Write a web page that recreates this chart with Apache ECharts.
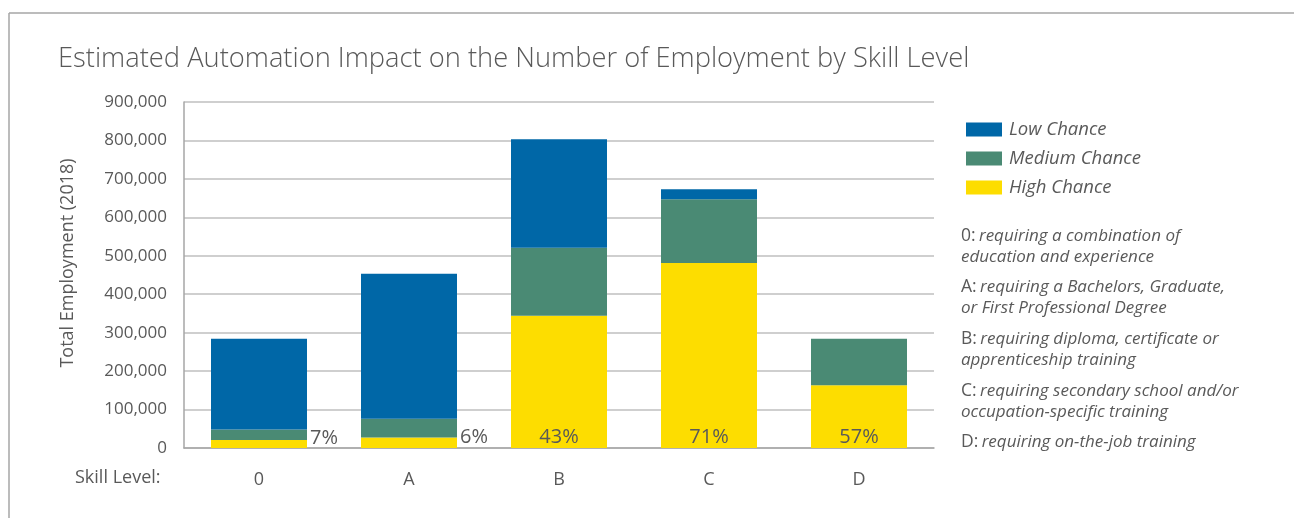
<!DOCTYPE html>
<html><head><meta charset="utf-8">
<script src="https://cdn.jsdelivr.net/npm/echarts@6/dist/echarts.min.js"></script>
<style>html,body{margin:0;padding:0;background:#fff}#c{width:1294px;height:518px}</style>
</head><body><div id="c"></div>
<script>
const categories = ['0', 'A', 'B', 'C', 'D'];
const highChance = [21000, 27000, 344000, 481000, 163000];
const mediumChance = [27000, 49000, 177000, 166000, 121000];
const lowChance = [236000, 377000, 282000, 26000, 0];
const highPctLabels = ['7%', '6%', '43%', '71%', '57%'];
const outsideLabelCats = ['0', 'A'];
const seriesNames = ['Low Chance', 'Medium Chance', 'High Chance'];
const notes = [
  ['0:', 'requiring a combination of', 'education and experience'],
  ['A:', 'requiring a Bachelors, Graduate,', 'or First Professional Degree'],
  ['B:', 'requiring diploma, certificate or', 'apprenticeship training'],
  ['C:', 'requiring secondary school and/or', 'occupation-specific training'],
  ['D:', 'requiring on-the-job training', '']
];

const FONT = '"Open Sans", Lato, sans-serif';
const GREY = '#595959';
const chart = echarts.init(document.getElementById('c'));

const highData = highChance.map((v, i) => {
  const outside = outsideLabelCats.includes(categories[i]);
  return {
    value: v,
    label: outside
      ? { position: 'right', distance: 3, offset: [0, -6] }
      : { position: 'insideBottom', distance: 1 }
  };
});

const graphics = [
  { type: 'line', shape: { x1: 9, y1: 13, x2: 1294, y2: 13 }, style: { stroke: '#a6a6a6', lineWidth: 1.5 } },
  { type: 'line', shape: { x1: 9, y1: 13, x2: 9, y2: 518 }, style: { stroke: '#a6a6a6', lineWidth: 1.5 } },
  { type: 'text', left: 75, top: 469, style: { text: 'Skill Level:', font: '18px ' + FONT, fill: GREY } },
  { type: 'text', x: 68, y: 263, rotation: Math.PI / 2,
    style: { text: 'Total Employment (2018)', font: '18px ' + FONT, fill: GREY, align: 'center', verticalAlign: 'middle' } }
];
const noteTops = [227, 278, 330, 382, 433];
notes.forEach((n, i) => {
  let txt = '{b|' + n[0] + '} {i|' + n[1] + '}';
  if (n[2]) txt += '\n{i|' + n[2] + '}';
  graphics.push({
    type: 'text', left: 961, top: noteTops[i],
    style: {
      text: txt,
      rich: {
        b: { fontFamily: FONT, fontSize: 17.5, fill: GREY, lineHeight: 21 },
        i: { fontFamily: FONT, fontSize: 17, fontStyle: 'italic', fill: GREY, lineHeight: 21 }
      }
    }
  });
});

chart.setOption({
  animation: false,
  title: {
    text: 'Estimated Automation Impact on the Number of Employment by Skill Level',
    left: 53, top: 41,
    textStyle: { fontFamily: FONT, fontSize: 27.3, fontWeight: 300, color: '#595959' }
  },
  legend: {
    orient: 'vertical', left: 961, top: 115,
    data: seriesNames,
    itemWidth: 36, itemHeight: 14, itemGap: 10,
    icon: 'rect',
    textStyle: { fontFamily: FONT, fontSize: 18.5, fontStyle: 'italic', color: GREY, padding: [0, 0, 0, 2] }
  },
  grid: { left: 184, right: 360, top: 102, bottom: 70 },
  xAxis: {
    type: 'category', data: categories,
    axisLine: { lineStyle: { color: '#a6a6a6', width: 1.5 } },
    axisTick: { show: false },
    axisLabel: { fontFamily: FONT, fontSize: 18, color: GREY, margin: 23 }
  },
  yAxis: {
    type: 'value', min: 0, max: 900000, interval: 100000,
    axisLine: { show: true, lineStyle: { color: '#a6a6a6', width: 1.5 } },
    axisTick: { show: false },
    splitLine: { lineStyle: { color: '#bfbfbf', width: 1.5 } },
    axisLabel: {
      fontFamily: FONT, fontSize: 17, color: GREY, margin: 17,
      formatter: v => v.toLocaleString('en-US')
    }
  },
  graphic: graphics,
  series: [
    {
      name: 'High Chance', type: 'bar', stack: 's', data: highData,
      barWidth: '64%', itemStyle: { color: '#fddd00' },
      label: {
        show: true, fontFamily: FONT, fontSize: 20, color: GREY,
        formatter: p => highPctLabels[p.dataIndex]
      }
    },
    { name: 'Medium Chance', type: 'bar', stack: 's', data: mediumChance, itemStyle: { color: '#4a8a74' } },
    { name: 'Low Chance', type: 'bar', stack: 's', data: lowChance, itemStyle: { color: '#0067a7' } }
  ]
});
</script></body></html>
